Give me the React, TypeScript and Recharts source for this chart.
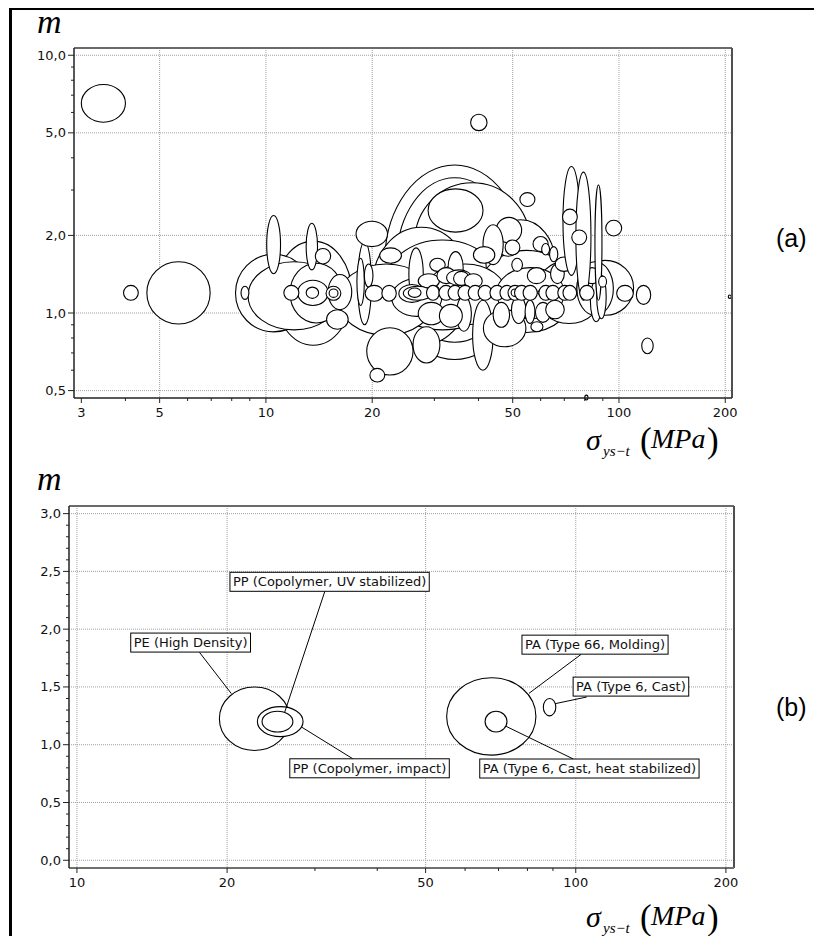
import React from 'react';
import { ComposedChart, XAxis, YAxis, ReferenceArea, ReferenceLine, ReferenceDot } from 'recharts';

const FONT = '"DejaVu Sans", Verdana, sans-serif';
const SERIF = '"Liberation Serif", "Times New Roman", serif';

// ---------- Panel (a): axes ----------
const xTicksA = [3, 4, 5, 6, 7, 8, 9, 10, 20, 30, 40, 50, 60, 70, 80, 90, 100, 200];
const xMajorA = [3, 5, 10, 20, 50, 100, 200];
const xGridA = [5, 10, 20, 50, 100, 200];
const yTicksA = [0.5, 0.6, 0.7, 0.8, 0.9, 1, 2, 3, 4, 5, 6, 7, 8, 9, 10];
const yMajorA = [0.5, 1, 2, 5, 10];
const xDomainA = [2.86, 209];
const yDomainA = [0.468, 10.67];

// ---------- Panel (a): ellipses [sigmaMin, sigmaMax, mMin, mMax] ----------
const bigEllipsesA = [
  [21.7, 54, 0.66, 3.75],
  [23.5, 50, 0.77, 3.35],
  [26.4, 56, 1.12, 3.2],
  [10.6, 17.5, 0.75, 1.9],
  [8.2, 13.5, 0.845, 1.69],
  [8.9, 16.2, 0.86, 1.58],
  [20, 38, 0.75, 2.15],
  [21.7, 46, 0.86, 1.92],
  [42, 66, 1.05, 2.3],
  [40, 75, 0.84, 1.75],
  [58, 90, 0.91, 1.6],
  [76, 110, 0.98, 1.6],
  [16, 30, 0.82, 1.55],
  [28, 48, 0.9, 1.55],
  [22.7, 31.5, 0.97, 1.36],
  [45, 70, 0.95, 1.5],
];

const midEllipsesA = [
  [28.8, 41.2, 2.06, 3.03],
  [52.4, 57.8, 2.59, 2.93],
  [11.7, 16.5, 0.915, 1.56],
  [12.3, 15.0, 1.07, 1.34],
  [15.0, 17.5, 1.03, 1.41],
  [19.3, 26.1, 0.575, 0.877],
  [26.1, 31.1, 0.64, 0.885],
  [38.5, 44, 0.6, 1.12],
  [41.3, 54.5, 0.74, 1.03],
  [34.6, 38.2, 0.85, 1.16],
  [45.4, 51.8, 1.66, 1.94],
  [44.9, 53, 1.87, 2.35],
  [41.2, 47, 1.54, 2.2],
  [32.8, 36.2, 1.3, 1.73],
  [76, 96.4, 0.98, 1.58],
  [49.6, 54.5, 0.91, 1.16],
  [54.2, 57.8, 0.91, 1.12],
  [83, 89.5, 0.925, 1.34],
  [86.5, 92, 0.95, 1.4],
  [27, 32, 0.9, 1.1],
  [31, 36, 0.88, 1.08],
  [44, 49, 0.88, 1.1],
  [58, 64, 0.92, 1.1],
  [62, 70, 0.95, 1.12],
  [55, 62, 1.3, 1.5],
  [64, 70, 1.3, 1.55],
  [66, 74, 1.45, 1.65],
  [80, 88, 1.3, 1.5],
];

const tallEllipsesA = [
  [10.05, 11.0, 1.42, 2.39],
  [13.0, 14.0, 1.47, 2.23],
  [18.2, 19.9, 0.9, 1.89],
  [18.1, 19.0, 1.07, 1.63],
  [19.0, 20.1, 1.26, 1.55],
  [25.4, 27.9, 1.12, 1.79],
  [69.4, 77.5, 1.4, 3.7],
  [75.5, 83.3, 1.12, 3.52],
  [85.5, 89.5, 1.12, 3.14],
];

const smallEllipsesA = [
  [3.0, 4.0, 5.5, 7.7],
  [38, 42.3, 5.1, 5.9],
  [3.95, 4.35, 1.12, 1.28],
  [4.6, 6.95, 0.906, 1.58],
  [8.5, 8.95, 1.13, 1.27],
  [13.8, 15.25, 1.55, 1.78],
  [14.85, 17.1, 0.865, 1.03],
  [18.0, 22.1, 1.81, 2.27],
  [19.7, 21.7, 0.54, 0.61],
  [21, 24.2, 1.56, 1.79],
  [27, 31, 1.25, 1.42],
  [29.1, 32.2, 1.45, 1.63],
  [30.5, 34.5, 1.3, 1.5],
  [32.5, 38.2, 1.28, 1.47],
  [34, 37.6, 1.28, 1.45],
  [36.5, 41, 1.25, 1.42],
  [38.7, 44.5, 1.56, 1.81],
  [47.6, 52.4, 1.68, 1.92],
  [49.7, 53.3, 1.45, 1.63],
  [57.1, 63, 1.73, 1.98],
  [60.4, 63.6, 1.68, 1.86],
  [63.6, 67.1, 1.58, 1.81],
  [56.3, 60.9, 0.846, 0.925],
  [69.2, 76.2, 2.2, 2.53],
  [73.5, 81, 1.84, 2.1],
  [91.7, 101.8, 1.99, 2.29],
  [87.6, 92.2, 1.26, 1.39],
  [116, 125, 0.695, 0.8],
  [204, 208, 1.14, 1.175],
  [80, 81.7, 0.46, 0.48],
];

const rowCirclesA = [
  [11.24, 12.4, 1.12, 1.28],
  [13.0, 14.1, 1.14, 1.26],
  [14.8, 16.3, 1.12, 1.27],
  [15.1, 16.0, 1.15, 1.24],
  [19.1, 21.5, 1.11, 1.28],
  [21.3, 23.4, 1.11, 1.28],
  [23.8, 28.2, 1.1, 1.29],
  [24.5, 29.5, 1.12, 1.27],
  [25.3, 27.5, 1.15, 1.25],
  [28.5, 31.0, 1.12, 1.28],
  [30.9, 33.9, 1.12, 1.28],
  [32.8, 35.9, 1.12, 1.28],
  [35.0, 38.4, 1.12, 1.28],
  [37.4, 41.0, 1.12, 1.28],
  [39.9, 43.7, 1.12, 1.28],
  [43.1, 47.3, 1.12, 1.28],
  [46.0, 50.5, 1.12, 1.28],
  [48.5, 53.1, 1.12, 1.28],
  [49.5, 52.1, 1.16, 1.24],
  [50.6, 55.5, 1.12, 1.28],
  [53.5, 58.7, 1.12, 1.28],
  [58.9, 60.5, 1.18, 1.22],
  [59.3, 64.9, 1.12, 1.28],
  [62.1, 68.0, 1.12, 1.28],
  [67.1, 73.5, 1.12, 1.28],
  [69.4, 75.9, 1.12, 1.28],
  [77.4, 85.0, 1.12, 1.28],
  [98.5, 109.8, 1.11, 1.28],
  [112, 123, 1.08, 1.28],
];

// ---------- Panel (b) ----------
const xTicksB = [10, 20, 30, 40, 50, 60, 70, 80, 90, 100, 200];
const xMajorB = [10, 20, 50, 100, 200];
const yTicksB = [0, 0.1, 0.2, 0.3, 0.4, 0.5, 0.6, 0.7, 0.8, 0.9, 1, 1.1, 1.2, 1.3, 1.4, 1.5, 1.6, 1.7, 1.8, 1.9, 2, 2.1, 2.2, 2.3, 2.4, 2.5, 2.6, 2.7, 2.8, 2.9, 3];
const yMajorB = [0, 0.5, 1, 1.5, 2, 2.5, 3];
const xDomainB = [9.64, 207.6];
const yDomainB = [-0.067, 3.066];

const materialsB = [
  'PE (High Density)',
  'PP (Copolymer, impact)',
  'PP (Copolymer, UV stabilized)',
  'PA (Type 66, Molding)',
  'PA (Type 6, Cast, heat stabilized)',
  'PA (Type 6, Cast)',
];
const ellipsesB = [
  [19.3, 26.7, 0.95, 1.5],
  [23.0, 28.4, 1.07, 1.33],
  [23.5, 27.1, 1.11, 1.29],
  [55.1, 83.2, 0.91, 1.58],
  [65.8, 72.8, 1.11, 1.29],
  [86.1, 91.2, 1.25, 1.4],
];
// label centre [sigma, m]
const labelPosB = [
  [16.9, 1.884],
  [38.6, 0.796],
  [32.1, 2.41],
  [109.3, 1.866],
  [106.5, 0.794],
  [129, 1.503],
];
// leader [sigma1, m1, sigma2, m2]
const leadersB = [
  [17.6, 1.8, 20.4, 1.442],
  [35.8, 0.876, 28.2, 1.153],
  [31.4, 2.327, 26.1, 1.283],
  [102.5, 1.782, 80.6, 1.445],
  [98.9, 0.876, 72.5, 1.159],
  [105.2, 1.413, 90.9, 1.355],
];

// ---------- helpers ----------
const fmtInt = (v: number) => String(v);
const fmtDec = (v: number) => v.toFixed(1).replace('.', ',');

const makeXTick = (majors: number[]) => (props: any) => {
  const { x, y, payload } = props;
  const v = payload.value;
  const major = majors.some((m) => Math.abs(m - v) < 1e-9);
  return (
    <g>
      <line x1={x} x2={x} y1={y} y2={y + (major ? 5 : 3)} stroke="#222" strokeWidth={1} />
      {major && (
        <text x={x} y={y + 18.5} textAnchor="middle" fontFamily={FONT} fontSize={13} fill="#111">
          {fmtInt(v)}
        </text>
      )}
    </g>
  );
};

const makeYTick = (majors: number[]) => (props: any) => {
  const { x, y, payload } = props;
  const v = payload.value;
  const major = majors.some((m) => Math.abs(m - v) < 1e-9);
  return (
    <g>
      <line x1={x - (major ? 6 : 3)} x2={x} y1={y} y2={y} stroke="#222" strokeWidth={1} />
      {major && (
        <text x={x - 8} y={y + 4.5} textAnchor="end" fontFamily={FONT} fontSize={13} fill="#111">
          {fmtDec(v)}
        </text>
      )}
    </g>
  );
};

const ellipseShape = (p: any) => (
  <ellipse
    cx={p.x + p.width / 2}
    cy={p.y + p.height / 2}
    rx={Math.max(0.5, Math.abs(p.width) / 2)}
    ry={Math.max(0.5, Math.abs(p.height) / 2)}
    fill="#fff"
    stroke="#000"
    strokeWidth={1.1}
  />
);

const vGridShape = (p: any) => (
  <line x1={p.x + p.width / 2} x2={p.x + p.width / 2} y1={p.y} y2={p.y + p.height} stroke="#a0a0a0" strokeWidth={1} strokeDasharray="1 1" />
);
const hGridShape = (p: any) => (
  <line x1={p.x} x2={p.x + p.width} y1={p.y + p.height / 2} y2={p.y + p.height / 2} stroke="#a0a0a0" strokeWidth={1} strokeDasharray="1 1" />
);
const frameShape = (p: any) => (
  <g fill="none">
    <line x1={p.x} x2={p.x + p.width} y1={p.y} y2={p.y} stroke="#6a6a6a" strokeWidth={2} />
    <line x1={p.x + p.width} x2={p.x + p.width} y1={p.y} y2={p.y + p.height} stroke="#505050" strokeWidth={2} />
  </g>
);

const renderGrid = (xVals: number[], yVals: number[], xDom: number[], yDom: number[], yLog: boolean, key: string) => [
  ...xVals.map((v, i) => (
    <ReferenceArea key={key + 'v' + i} x1={v * 0.99995} x2={v * 1.00005} y1={yDom[0]} y2={yDom[1]} ifOverflow="visible" shape={vGridShape} />
  )),
  ...yVals.map((v, i) => (
    <ReferenceArea
      key={key + 'h' + i}
      x1={xDom[0]}
      x2={xDom[1]}
      y1={yLog ? v * 0.99995 : v - 0.00005}
      y2={yLog ? v * 1.00005 : v + 0.00005}
      ifOverflow="visible"
      shape={hGridShape}
    />
  )),
];

let measureCtx: CanvasRenderingContext2D | null = null;
const textWidth = (t: string) => {
  if (!measureCtx) measureCtx = document.createElement('canvas').getContext('2d');
  if (!measureCtx) return t.length * 6.7;
  measureCtx.font = '13px "DejaVu Sans"';
  return measureCtx.measureText(t).width;
};

const labelShape = (text: string) => (p: any) => {
  const w = textWidth(text) + 6;
  const h = 19;
  return (
    <g>
      <rect x={p.cx - w / 2} y={p.cy - h / 2} width={w} height={h} fill="#fff" stroke="#000" strokeWidth={1} />
      <text x={p.cx} y={p.cy + 4.6} textAnchor="middle" fontFamily={FONT} fontSize={13} fill="#111">
        {text}
      </text>
    </g>
  );
};

const renderEllipses = (list: number[][], key: string) =>
  list.map((e, i) => (
    <ReferenceArea key={key + i} x1={e[0]} x2={e[1]} y1={e[2]} y2={e[3]} ifOverflow="hidden" shape={ellipseShape} />
  ));

const SigmaTitle = ({ y }: { y: number }) => (
  <g fill="#000">
    <text x={586} y={y} fontFamily={SERIF} fontStyle="italic" fontSize={30}>σ</text>
    <text x={603} y={y + 6} fontFamily={SERIF} fontStyle="italic" fontSize={15}>ys−t</text>
    <text x={640} y={y + 2} fontFamily={SERIF} fontSize={35}>(</text>
    <text x={651} y={y - 1.7} fontFamily={SERIF} fontStyle="italic" fontSize={28}>MPa</text>
    <text x={707} y={y + 2} fontFamily={SERIF} fontSize={35}>)</text>
  </g>
);

export default function App() {
  return (
    <div style={{ position: 'absolute', left: 0, top: 0, width: 814, height: 936, overflow: 'hidden', background: '#fff' }}>
      <div style={{ position: 'absolute', left: 9, top: 8, width: 900, height: 1000, borderLeft: '3px solid #000', borderTop: '2px solid #000' }} />

      <div style={{ position: 'absolute', left: 0, top: 0 }}>
        <ComposedChart width={814} height={460} margin={{ top: 48, right: 82, bottom: 32, left: 14 }}>
          <XAxis
            type="number"
            scale="log"
            dataKey="x"
            domain={xDomainA}
            allowDataOverflow
            ticks={xTicksA}
            interval={0}
            height={30}
            tickSize={0}
            tickMargin={0}
            tick={makeXTick(xMajorA)}
            axisLine={{ stroke: '#222', strokeWidth: 1.5 }}
          />
          <YAxis
            type="number"
            scale="log"
            dataKey="y"
            domain={yDomainA}
            allowDataOverflow
            ticks={yTicksA}
            interval={0}
            width={60}
            tickSize={0}
            tickMargin={0}
            tick={makeYTick(yMajorA)}
            axisLine={{ stroke: '#222', strokeWidth: 1.5 }}
          />
          {renderGrid(xGridA, yMajorA, xDomainA, yDomainA, true, 'ga')}
          {renderEllipses(bigEllipsesA, 'big')}
          {renderEllipses(midEllipsesA, 'mid')}
          {renderEllipses(tallEllipsesA, 'tall')}
          {renderEllipses(smallEllipsesA, 'small')}
          {renderEllipses(rowCirclesA, 'row')}
          <ReferenceArea x1={xDomainA[0]} x2={xDomainA[1]} y1={yDomainA[0]} y2={yDomainA[1]} ifOverflow="visible" shape={frameShape} />
        </ComposedChart>
      </div>

      <div style={{ position: 'absolute', left: 0, top: 460 }}>
        <ComposedChart width={814} height={476} margin={{ top: 46, right: 80, bottom: 38, left: 9 }}>
          <XAxis
            type="number"
            scale="log"
            dataKey="x"
            domain={xDomainB}
            allowDataOverflow
            ticks={xTicksB}
            interval={0}
            height={30}
            tickSize={0}
            tickMargin={0}
            tick={makeXTick(xMajorB)}
            axisLine={{ stroke: '#707070', strokeWidth: 2 }}
          />
          <YAxis
            type="number"
            dataKey="y"
            domain={yDomainB}
            allowDataOverflow
            ticks={yTicksB}
            interval={0}
            width={60}
            tickSize={0}
            tickMargin={0}
            tick={makeYTick(yMajorB)}
            axisLine={{ stroke: '#222', strokeWidth: 1.5 }}
          />
          {renderGrid(xMajorB, yMajorB, xDomainB, yDomainB, false, 'gb')}
          {renderEllipses(ellipsesB, 'b')}
          {leadersB.map((l, i) => (
            <ReferenceLine key={'ld' + i} segment={[{ x: l[0], y: l[1] }, { x: l[2], y: l[3] }]} stroke="#000" strokeWidth={1} />
          ))}
          {labelPosB.map((p, i) => (
            <ReferenceDot key={'lb' + i} x={p[0]} y={p[1]} r={1} shape={labelShape(materialsB[i])} />
          ))}
          <ReferenceArea x1={xDomainB[0]} x2={xDomainB[1]} y1={yDomainB[0]} y2={yDomainB[1]} ifOverflow="visible" shape={frameShape} />
        </ComposedChart>
      </div>

      <svg width={814} height={936} style={{ position: 'absolute', left: 0, top: 0, pointerEvents: 'none' }}>
        <text x={37} y={33} fontFamily={SERIF} fontStyle="italic" fontSize={34} fill="#000">m</text>
        <text x={37} y={490} fontFamily={SERIF} fontStyle="italic" fontSize={34} fill="#000">m</text>
        <SigmaTitle y={450} />
        <SigmaTitle y={927} />
        <text x={776} y={247} fontFamily='"Liberation Sans", Arial, sans-serif' fontSize={25} fill="#000">(a)</text>
        <text x={776} y={716} fontFamily='"Liberation Sans", Arial, sans-serif' fontSize={25} fill="#000">(b)</text>
      </svg>
    </div>
  );
}
